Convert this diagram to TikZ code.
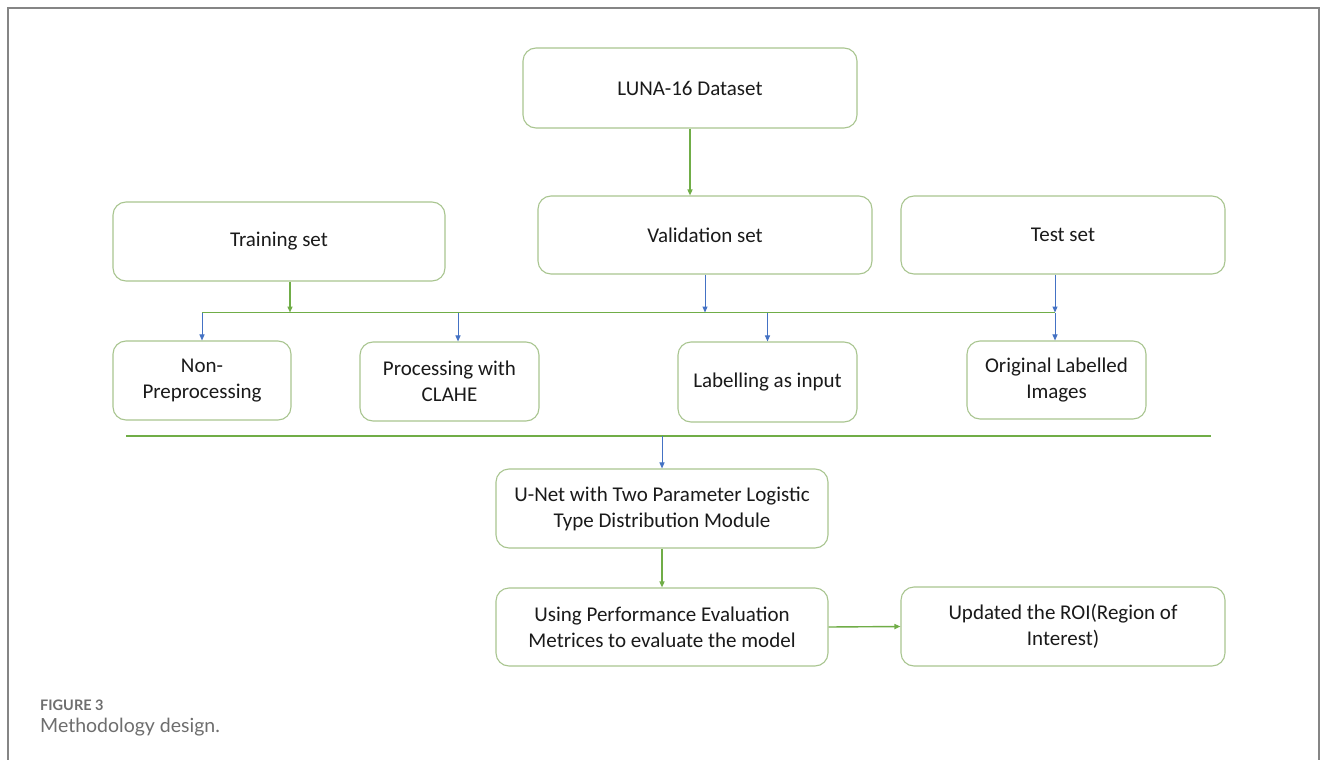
\documentclass[tikz,border=0pt]{standalone}
\usepackage{fontspec}
\setmainfont{Carlito}
\newfontfamily\capfont{Lato}
\usetikzlibrary{arrows.meta}
\definecolor{boxgreen}{HTML}{A9C590}
\definecolor{lgreen}{HTML}{70AD47}
\definecolor{lblue}{HTML}{4472C4}
\definecolor{framegray}{HTML}{858585}
\definecolor{capgray}{HTML}{6E6E6E}
\definecolor{txt}{HTML}{1A1A1A}
\tikzset{
  fbox/.style={draw=boxgreen, line width=1.1pt, rounded corners=13pt, align=center,
    text=txt, font=\fontsize{21}{26}\selectfont, inner sep=0pt},
  garr/.style={draw=lgreen, line width=1.4pt, -{Triangle[length=6pt,width=5pt]}},
  barr/.style={draw=lblue, line width=1pt, -{Triangle[length=6pt,width=5pt]}},
  gline/.style={draw=lgreen, line width=1.6pt},
}
\begin{document}
\begin{tikzpicture}[x=1pt,y=-1pt]
\useasboundingbox (0,0) rectangle (1331,760);
\fill[white] (0,0) rectangle (1331,760);
% frame
\draw[framegray, line width=1.6pt] (8,762) -- (8,8) -- (1319,8) -- (1319,762);

% boxes
\node[fbox, minimum width=334pt, minimum height=80pt] (luna) at (690,88) {LUNA-16 Dataset};
\node[fbox, minimum width=332pt, minimum height=79pt] (train) at (279,241.5) {Training set};
\node[fbox, minimum width=334pt, minimum height=78pt] (val) at (705,235) {Validation set};
\node[fbox, minimum width=324pt, minimum height=78pt] (test) at (1063,235) {Test set};
\node[fbox, minimum width=178pt, minimum height=79pt] (nonp) at (202,380.5) {Non-\\Preprocessing};
\node[fbox, minimum width=179pt, minimum height=79pt] (clahe) at (449.5,381.5) {Processing with\\CLAHE};
\node[fbox, minimum width=179pt, minimum height=80pt] (lab) at (767.5,382) {Labelling as input};
\node[fbox, minimum width=179pt, minimum height=78pt] (orig) at (1056.5,380) {Original Labelled\\Images};
\node[fbox, minimum width=332pt, minimum height=79pt] (unet) at (662,508.5) {U-Net with Two Parameter Logistic\\Type Distribution Module};
\node[fbox, minimum width=332pt, minimum height=78pt] (perf) at (662,627) {Using Performance Evaluation\\Metrices to evaluate the model};
\node[fbox, minimum width=324pt, minimum height=79pt] (upd) at (1063,626.5) {Updated the ROI(Region of\\Interest)};

% bus line
\coordinate (busL) at (202,312.5);
\coordinate (busR) at (1055,312.5);
\draw[gline] (busL) -- (busR);
\coordinate (bt) at (290,312.5);
\draw[garr] (luna.south) -- (luna.south |- val.north);
\draw[garr] (train.south -| bt) -- (bt);
\draw[barr] (val.south) -- (val.south |- busL);
\draw[barr] (test.south -| busR) -- (busR);
\draw[barr] (busL) -- (busL |- nonp.north);
\coordinate (b2) at (458,312.5);
\draw[barr] (b2) -- (b2 |- clahe.north);
\coordinate (b3) at (767.5,312.5);
\draw[barr] (b3) -- (b3 |- lab.north);
\draw[barr] (busR) -- (busR |- orig.north);

% separator
\coordinate (sepL) at (126,436);
\coordinate (sepR) at (1211,436);
\draw[gline] (sepL) -- (sepR);
\coordinate (s1) at (662,436);
\draw[barr] (s1) -- (unet.north);
\draw[garr] (unet.south) -- (perf.north);
\draw[garr] (perf.east) -- (upd.west);

% caption
\node[anchor=base west, inner sep=0pt, text=capgray, font=\capfont\bfseries\fontsize{14.5}{16}\selectfont] (figlab) at (40,710) {FIGURE 3};
\node[anchor=base west, inner sep=0pt, text=capgray, font=\capfont\fontsize{19.5}{22}\selectfont] (figcap) at (40,732) {Methodology design.};
\end{tikzpicture}
\end{document}
